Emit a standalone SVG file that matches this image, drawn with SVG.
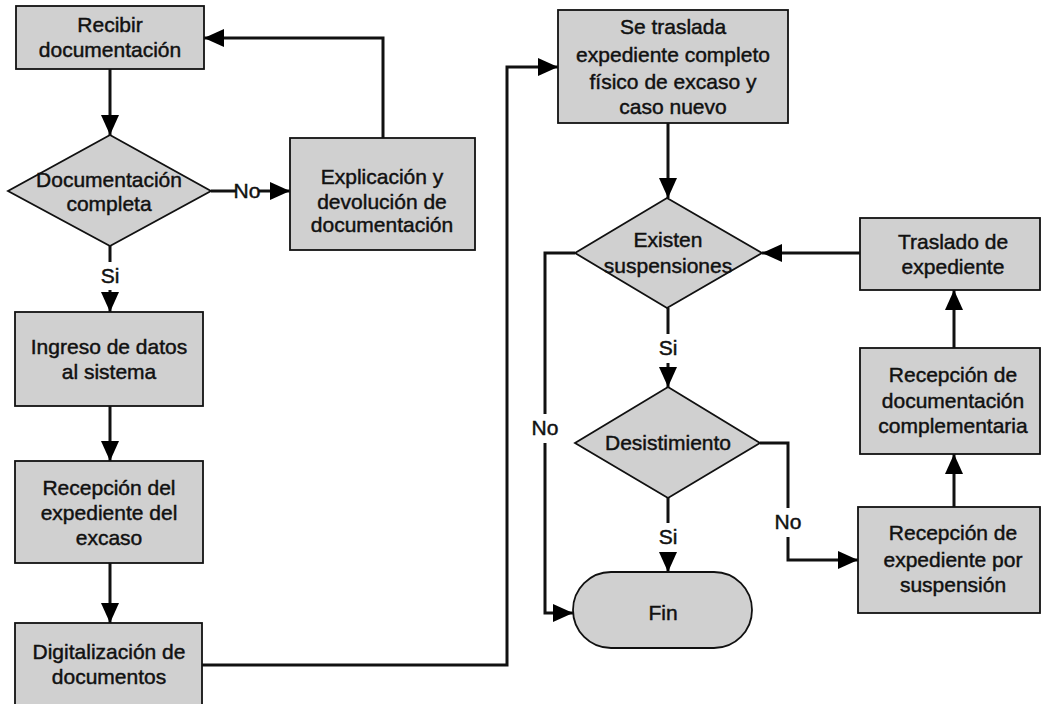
<svg xmlns="http://www.w3.org/2000/svg" width="1041" height="704" viewBox="0 0 1041 704">
<defs>
<marker id="ah" viewBox="0 0 20 18" refX="20" refY="9" markerWidth="20" markerHeight="18" markerUnits="userSpaceOnUse" orient="auto">
<path d="M0,0 L20,9 L0,18 z" fill="#000"/>
</marker>
<style>
.shape{fill:#d0d0d0;stroke:#111;stroke-width:1.8}
.t{font-family:"Liberation Sans",Arial,sans-serif;font-size:21px;fill:#111;stroke:#111;stroke-width:0.45;text-anchor:middle}
.c{fill:none;stroke:#111;stroke-width:3}
.a{marker-end:url(#ah)}
</style>
</defs>
<rect width="1041" height="704" fill="#fff"/>

<g id="connectors">
<path class="c a" d="M110,69 V135"/>
<path class="c" d="M211,191 H236"/>
<path class="c a" d="M259,191 H290"/>
<text class="t" x="247" y="198">No</text>
<path class="c a" d="M383,138 V38 H204"/>
<path class="c" d="M110,246 V262"/>
<text class="t" x="110" y="283">Si</text>
<path class="c a" d="M110,290 V312"/>
<path class="c a" d="M110,406 V461"/>
<path class="c a" d="M110,563 V623"/>
<path class="c a" d="M202,665 H507 V67 H558"/>
<path class="c a" d="M668,123 V198"/>
<path class="c" d="M668,308 V334"/>
<text class="t" x="668" y="355">Si</text>
<path class="c a" d="M668,363 V387"/>
<path class="c" d="M575,253 H545 V414"/>
<text class="t" x="545" y="435">No</text>
<path class="c a" d="M545,443 V613 H573"/>
<path class="c" d="M668,498 V523"/>
<text class="t" x="668" y="544">Si</text>
<path class="c a" d="M668,552 V572"/>
<path class="c" d="M760,443 H788 V508"/>
<text class="t" x="788" y="529">No</text>
<path class="c a" d="M788,537 V560 H858"/>
<path class="c a" d="M954,507 V454"/>
<path class="c a" d="M954,348 V290"/>
<path class="c a" d="M860,253 H762"/>
</g>

<g id="recibir">
<rect class="shape" x="16" y="6" width="188" height="63"/>
<text class="t" x="110" y="32">Recibir</text>
<text class="t" x="110" y="57">documentación</text>
</g>

<g id="doc-completa">
<polygon class="shape" points="110,135 211,191 110,246 8,191"/>
<text class="t" x="109" y="187">Documentación</text>
<text class="t" x="109" y="211">completa</text>
</g>

<g id="explicacion">
<rect class="shape" x="290" y="138" width="185" height="112"/>
<text class="t" x="382" y="184">Explicación y</text>
<text class="t" x="382" y="209">devolución de</text>
<text class="t" x="382" y="232">documentación</text>
</g>

<g id="ingreso">
<rect class="shape" x="15" y="312" width="188" height="94"/>
<text class="t" x="109" y="354">Ingreso de datos</text>
<text class="t" x="109" y="379">al sistema</text>
</g>

<g id="recepcion-excaso">
<rect class="shape" x="15" y="461" width="188" height="102"/>
<text class="t" x="109" y="495">Recepción del</text>
<text class="t" x="109" y="520">expediente del</text>
<text class="t" x="109" y="545">excaso</text>
</g>

<g id="digitalizacion">
<rect class="shape" x="15" y="623" width="187" height="90"/>
<text class="t" x="109" y="659">Digitalización de</text>
<text class="t" x="109" y="684">documentos</text>
</g>

<g id="se-traslada">
<rect class="shape" x="558" y="10" width="230" height="113"/>
<text class="t" x="673" y="34">Se traslada</text>
<text class="t" x="673" y="62">expediente completo</text>
<text class="t" x="673" y="89">físico de excaso y</text>
<text class="t" x="673" y="114">caso nuevo</text>
</g>

<g id="existen-suspensiones">
<polygon class="shape" points="667,198 762,253 667,308 575,253"/>
<text class="t" x="668" y="247">Existen</text>
<text class="t" x="668" y="273">suspensiones</text>
</g>

<g id="desistimiento">
<polygon class="shape" points="668,387 760,443 668,498 575,443"/>
<text class="t" x="668" y="450">Desistimiento</text>
</g>

<g id="fin">
<rect class="shape" x="573" y="572" width="179" height="76" rx="38" ry="38"/>
<text class="t" x="663" y="620">Fin</text>
</g>

<g id="traslado">
<rect class="shape" x="860" y="218" width="180" height="72"/>
<text class="t" x="953" y="249">Traslado de</text>
<text class="t" x="953" y="274">expediente</text>
</g>

<g id="recepcion-complementaria">
<rect class="shape" x="860" y="348" width="180" height="106"/>
<text class="t" x="953" y="382">Recepción de</text>
<text class="t" x="953" y="408">documentación</text>
<text class="t" x="953" y="433">complementaria</text>
</g>

<g id="recepcion-suspension">
<rect class="shape" x="858" y="507" width="182" height="106"/>
<text class="t" x="953" y="540">Recepción de</text>
<text class="t" x="953" y="567">expediente por</text>
<text class="t" x="953" y="592">suspensión</text>
</g>
</svg>
